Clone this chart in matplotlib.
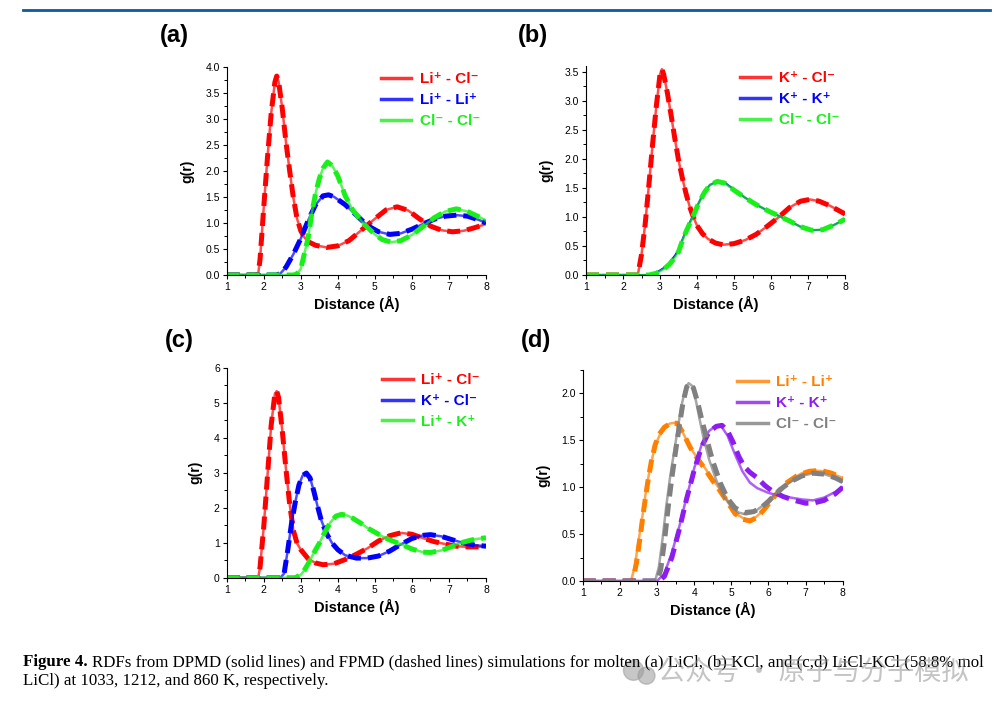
import matplotlib
matplotlib.use('Agg')
import matplotlib.pyplot as plt
from matplotlib.patches import Ellipse
from matplotlib.ticker import MultipleLocator, FormatStrFormatter

plt.rcParams['font.family'] = ['Liberation Sans', 'DejaVu Sans']

# ---- (a) LiCl, 1033 K ----
a_licl_x = [1.0, 1.8, 1.85, 1.9, 2.0, 2.1, 2.2, 2.3, 2.35, 2.4, 2.5, 2.6, 2.7, 2.8, 2.9, 3.0, 3.1, 3.2, 3.4,
            3.7, 4.0, 4.3, 4.6, 5.0, 5.3, 5.6, 5.9, 6.2, 6.5, 6.8, 7.1, 7.4, 7.7, 8.0]
a_licl_y = [0, 0, 0.02, 0.3, 1.3, 2.25, 3.1, 3.7, 3.82, 3.72, 3.2, 2.55, 2.0, 1.48, 1.08, 0.85, 0.72, 0.64, 0.57,
            0.53, 0.56, 0.66, 0.84, 1.08, 1.25, 1.31, 1.24, 1.08, 0.94, 0.86, 0.83, 0.85, 0.91, 0.98]
a_lili_x = [1.0, 2.35, 2.45, 2.6, 2.8, 3.0, 3.2, 3.4, 3.6, 3.75, 3.9, 4.2, 4.5, 4.8, 5.1, 5.4, 5.7, 6.0, 6.3,
            6.6, 6.9, 7.2, 7.5, 7.8, 8.0]
a_lili_y = [0, 0, 0.03, 0.15, 0.4, 0.7, 1.05, 1.35, 1.52, 1.54, 1.5, 1.35, 1.15, 0.95, 0.83, 0.78, 0.8, 0.88, 0.98,
            1.07, 1.13, 1.15, 1.13, 1.06, 1.0]
a_clcl_x = [1.0, 2.8, 2.9, 3.0, 3.1, 3.2, 3.3, 3.4, 3.5, 3.6, 3.72, 3.85, 4.0, 4.2, 4.4, 4.7, 5.0, 5.2, 5.45,
            5.7, 6.0, 6.3, 6.6, 6.9, 7.2, 7.5, 7.8, 8.0]
a_clcl_y = [0, 0, 0.02, 0.12, 0.42, 0.72, 1.2, 1.57, 1.85, 2.05, 2.17, 2.1, 1.9, 1.52, 1.25, 0.98, 0.78, 0.68, 0.63,
            0.66, 0.77, 0.93, 1.1, 1.22, 1.27, 1.22, 1.12, 1.05]

# ---- (b) KCl, 1212 K ----
b_kcl_x = [1.0, 2.4, 2.5, 2.6, 2.7, 2.8, 2.9, 3.0, 3.05, 3.1, 3.2, 3.3, 3.4, 3.5, 3.6, 3.7, 3.8, 3.9, 4.0, 4.15,
           4.3, 4.5, 4.7, 5.0, 5.3, 5.6, 5.9, 6.2, 6.5, 6.8, 7.05, 7.3, 7.6, 8.0]
b_kcl_y = [0, 0, 0.35, 0.88, 1.55, 2.25, 2.9, 3.45, 3.54, 3.45, 3.13, 2.75, 2.35, 1.98, 1.68, 1.41, 1.18, 1.0, 0.85,
           0.71, 0.62, 0.55, 0.52, 0.54, 0.6, 0.7, 0.84, 0.99, 1.16, 1.27, 1.3, 1.27, 1.19, 1.05]
b_kk_x = [1.0, 2.7, 2.9, 3.1, 3.25, 3.4, 3.5, 3.6, 3.7, 3.8, 3.9, 4.0, 4.1, 4.2, 4.35, 4.55, 4.75, 5.0, 5.3, 5.6,
          5.9, 6.2, 6.5, 6.8, 7.1, 7.4, 7.7, 8.0]
b_kk_y = [0, 0, 0.04, 0.12, 0.21, 0.33, 0.43, 0.6, 0.76, 0.9, 1.03, 1.18, 1.31, 1.43, 1.55, 1.61, 1.59, 1.47, 1.33,
          1.21, 1.11, 1.02, 0.93, 0.83, 0.77, 0.78, 0.86, 0.96]
b_clcl_x = [1.0, 2.7, 2.9, 3.1, 3.25, 3.4, 3.5, 3.6, 3.7, 3.8, 3.9, 4.0, 4.1, 4.2, 4.35, 4.55, 4.75, 5.0, 5.3, 5.6,
            5.9, 6.2, 6.5, 6.8, 7.1, 7.4, 7.7, 8.0]
b_clcl_y = [0, 0, 0.03, 0.1, 0.18, 0.3, 0.4, 0.58, 0.74, 0.88, 1.02, 1.17, 1.3, 1.42, 1.55, 1.61, 1.58, 1.46, 1.33,
            1.21, 1.11, 1.02, 0.93, 0.83, 0.77, 0.78, 0.86, 0.96]

# ---- (c) LiCl-KCl, 860 K ----
c_licl_x = [1.0, 1.85, 1.9, 2.0, 2.1, 2.2, 2.3, 2.35, 2.4, 2.5, 2.6, 2.7, 2.8, 2.9, 3.0, 3.2, 3.4, 3.6, 3.9, 4.2,
            4.5, 4.8, 5.1, 5.4, 5.7, 6.0, 6.3, 6.6, 6.9, 7.2, 7.5, 7.8, 8.0]
c_licl_y = [0, 0, 0.3, 1.45, 2.9, 4.35, 5.25, 5.33, 5.15, 4.2, 3.1, 2.1, 1.35, 0.98, 0.8, 0.54, 0.42, 0.37, 0.4, 0.52,
            0.67, 0.84, 1.05, 1.2, 1.28, 1.24, 1.13, 1.03, 0.96, 0.9, 0.88, 0.88, 0.9]
c_kcl_x = [1.0, 2.45, 2.55, 2.65, 2.75, 2.85, 2.95, 3.05, 3.15, 3.25, 3.35, 3.45, 3.55, 3.7, 3.85, 4.0, 4.2, 4.5,
           4.8, 5.1, 5.4, 5.7, 6.0, 6.3, 6.5, 6.8, 7.1, 7.4, 7.7, 8.0]
c_kcl_y = [0, 0, 0.12, 0.8, 1.55, 2.15, 2.65, 2.92, 2.99, 2.85, 2.48, 2.05, 1.65, 1.25, 0.98, 0.8, 0.64, 0.56,
           0.56, 0.62, 0.76, 0.95, 1.12, 1.21, 1.23, 1.18, 1.08, 0.99, 0.93, 0.9]
c_lik_x = [1.0, 2.85, 3.0, 3.1, 3.2, 3.3, 3.4, 3.5, 3.6, 3.7, 3.8, 3.95, 4.1, 4.25, 4.4, 4.6, 4.8, 5.0, 5.2, 5.4,
           5.7, 6.0, 6.3, 6.5, 6.8, 7.1, 7.4, 7.7, 8.0]
c_lik_y = [0, 0, 0.08, 0.22, 0.4, 0.6, 0.8, 0.98, 1.2, 1.4, 1.58, 1.76, 1.81, 1.78, 1.7, 1.57, 1.42, 1.3, 1.18, 1.08,
           0.96, 0.82, 0.73, 0.72, 0.78, 0.9, 1.02, 1.1, 1.14]

# ---- (d) LiCl-KCl like pairs, solid = DPMD, dashed = FPMD ----
d_lili_x = [1.0, 2.3, 2.4, 2.5, 2.6, 2.7, 2.8, 2.9, 3.0, 3.1, 3.2, 3.35, 3.5, 3.6, 3.8, 4.0, 4.2, 4.4, 4.6, 4.8,
            5.0, 5.2, 5.4, 5.6, 5.8, 6.0, 6.3, 6.6, 6.9, 7.2, 7.5, 7.8, 8.0]
d_lili_y = [0, 0, 0.15, 0.42, 0.67, 0.95, 1.18, 1.36, 1.49, 1.58, 1.64, 1.68, 1.69, 1.66, 1.5, 1.36, 1.26, 1.14,
            1.03, 0.92, 0.8, 0.7, 0.65, 0.66, 0.73, 0.83, 0.97, 1.08, 1.15, 1.18, 1.17, 1.13, 1.1]
d_lili_fp_x = [1.0, 2.35, 2.45, 2.55, 2.65, 2.75, 2.85, 2.95, 3.05, 3.2, 3.4, 3.55, 3.7, 3.9, 4.1, 4.3, 4.5, 4.7,
               4.9, 5.1, 5.3, 5.5, 5.7, 5.9, 6.2, 6.5, 6.8, 7.1, 7.4, 7.7, 8.0]
d_lili_fp_y = [0, 0, 0.2, 0.48, 0.78, 1.05, 1.28, 1.45, 1.56, 1.64, 1.69, 1.68, 1.58, 1.42, 1.3, 1.19, 1.07, 0.96,
               0.84, 0.72, 0.66, 0.64, 0.68, 0.77, 0.92, 1.05, 1.13, 1.17, 1.18, 1.15, 1.1]
d_kk_x = [1.0, 3.0, 3.2, 3.4, 3.6, 3.8, 4.0, 4.2, 4.4, 4.6, 4.75, 4.9, 5.1, 5.3, 5.5, 5.7, 6.0, 6.3, 6.6, 6.9,
          7.2, 7.5, 7.8, 8.0]
d_kk_y = [0, 0, 0.08, 0.3, 0.58, 0.9, 1.2, 1.45, 1.6, 1.66, 1.64, 1.55, 1.35, 1.17, 1.05, 0.99, 0.94, 0.91, 0.89,
          0.87, 0.86, 0.89, 0.95, 1.0]
d_kk_fp_x = [1.0, 3.05, 3.2, 3.4, 3.6, 3.8, 4.0, 4.2, 4.4, 4.6, 4.75, 4.9, 5.05, 5.2, 5.35, 5.5, 5.7, 5.9, 6.1,
             6.4, 6.7, 7.0, 7.2, 7.5, 7.8, 8.0]
d_kk_fp_y = [0, 0, 0.05, 0.25, 0.55, 0.88, 1.18, 1.43, 1.59, 1.65, 1.66, 1.6, 1.48, 1.33, 1.22, 1.16, 1.1, 1.02,
             0.96, 0.9, 0.86, 0.83, 0.83, 0.86, 0.93, 1.0]
d_clcl_x = [1.0, 2.95, 3.05, 3.15, 3.25, 3.35, 3.45, 3.55, 3.65, 3.75, 3.85, 3.95, 4.05, 4.15, 4.25, 4.4, 4.6,
            4.8, 5.0, 5.2, 5.4, 5.6, 5.8, 6.0, 6.3, 6.6, 6.9, 7.2, 7.5, 7.8, 8.0]
d_clcl_y = [0, 0, 0.15, 0.45, 0.8, 1.1, 1.35, 1.6, 1.85, 2.03, 2.11, 2.08, 1.92, 1.72, 1.53, 1.3, 1.07, 0.9, 0.79,
            0.73, 0.71, 0.73, 0.79, 0.86, 0.97, 1.06, 1.12, 1.15, 1.14, 1.1, 1.06]
d_clcl_fp_x = [1.0, 3.0, 3.1, 3.2, 3.3, 3.4, 3.5, 3.6, 3.7, 3.8, 3.88, 3.98, 4.1, 4.2, 4.35, 4.5, 4.7, 4.9, 5.1,
               5.35, 5.6, 5.8, 6.0, 6.3, 6.6, 6.9, 7.2, 7.5, 7.8, 8.0]
d_clcl_fp_y = [0, 0, 0.12, 0.42, 0.78, 1.1, 1.38, 1.65, 1.9, 2.07, 2.11, 2.06, 1.9, 1.73, 1.5, 1.28, 1.05, 0.88,
               0.78, 0.73, 0.74, 0.78, 0.85, 0.97, 1.06, 1.12, 1.15, 1.14, 1.1, 1.06]

RED, BLUE, GREEN = '#ff0000', '#0000ff', '#19f019'
ORANGE, PURPLE, GRAY = '#ff8000', '#8c1cf0', '#808080'
DASH = (0, (2.6, 1.4))


def draw_pair(ax, x, y, color, label, x2=None, y2=None, solid_lw=1.8):
    if x2 is None:
        x2, y2 = x, y
    ax.plot(x2, y2, color=color, lw=3.6, linestyle=DASH, dash_capstyle='butt')
    ax.plot(x, y, color=color, lw=solid_lw, alpha=0.7, label=label)


def style_axes(ax, ymax, ymajor, yminor, fmt):
    ax.set_xlim(1, 8)
    ax.set_ylim(0, ymax)
    ax.xaxis.set_major_locator(MultipleLocator(1))
    ax.xaxis.set_minor_locator(MultipleLocator(0.5))
    ax.yaxis.set_major_locator(MultipleLocator(ymajor))
    ax.yaxis.set_minor_locator(MultipleLocator(yminor))
    ax.yaxis.set_major_formatter(FormatStrFormatter(fmt))
    for side in ['top', 'right']:
        ax.spines[side].set_visible(False)
    for side in ['left', 'bottom']:
        ax.spines[side].set_linewidth(0.8)
    ax.tick_params(which='major', direction='out', length=3, width=0.8, labelsize=7.5, pad=2)
    ax.tick_params(which='minor', direction='out', length=2, width=0.7)
    ax.set_xlabel('Distance (Å)', fontsize=10.5, fontweight='bold', labelpad=3)
    ax.set_ylabel('g(r)', fontsize=10, fontweight='bold', labelpad=8)
    leg = ax.legend(loc='upper right', bbox_to_anchor=(1.03, 1.04), frameon=False,
                    handlelength=2.0, handletextpad=0.55, labelspacing=0.45,
                    prop={'weight': 'bold', 'size': 11})
    for line, text in zip(leg.get_lines(), leg.get_texts()):
        line.set_linewidth(2.5)
        line.set_alpha(0.8)
        text.set_color(line.get_color())


fig = plt.figure(figsize=(10, 7.09), dpi=100)

ax_a = fig.add_axes([0.2267, 0.6121, 0.2593, 0.2938])
draw_pair(ax_a, a_licl_x, a_licl_y, RED, 'Li⁺ - Cl⁻')
draw_pair(ax_a, a_lili_x, a_lili_y, BLUE, 'Li⁺ - Li⁺')
draw_pair(ax_a, a_clcl_x, a_clcl_y, GREEN, 'Cl⁻ - Cl⁻')
style_axes(ax_a, 4.0, 0.5, 0.25, '%.1f')

ax_b = fig.add_axes([0.586, 0.6121, 0.259, 0.2952])
draw_pair(ax_b, b_kcl_x, b_kcl_y, RED, 'K⁺ - Cl⁻')
ax_b.plot(b_kk_x, b_kk_y, color=BLUE, lw=1.4, label='K⁺ - K⁺')
draw_pair(ax_b, b_clcl_x, b_clcl_y, GREEN, 'Cl⁻ - Cl⁻')
style_axes(ax_b, 3.6, 0.5, 0.25, '%.1f')

ax_c = fig.add_axes([0.2267, 0.1852, 0.2593, 0.2962])
draw_pair(ax_c, c_licl_x, c_licl_y, RED, 'Li⁺ - Cl⁻')
draw_pair(ax_c, c_kcl_x, c_kcl_y, BLUE, 'K⁺ - Cl⁻')
draw_pair(ax_c, c_lik_x, c_lik_y, GREEN, 'Li⁺ - K⁺')
style_axes(ax_c, 6, 1, 0.5, '%d')

ax_d = fig.add_axes([0.5827, 0.1805, 0.26, 0.2976])
draw_pair(ax_d, d_lili_x, d_lili_y, ORANGE, 'Li⁺ - Li⁺', d_lili_fp_x, d_lili_fp_y)
draw_pair(ax_d, d_kk_x, d_kk_y, PURPLE, 'K⁺ - K⁺', d_kk_fp_x, d_kk_fp_y)
draw_pair(ax_d, d_clcl_x, d_clcl_y, GRAY, 'Cl⁻ - Cl⁻', d_clcl_fp_x, d_clcl_fp_y)
style_axes(ax_d, 2.25, 0.5, 0.25, '%.1f')

# panel letters
for lbl, x, y in [('(a)', 0.160, 0.950), ('(b)', 0.518, 0.950),
                  ('(c)', 0.165, 0.520), ('(d)', 0.521, 0.520)]:
    fig.text(x, y, lbl, fontsize=17, fontweight='bold', va='center')

# journal rule at the top
fig.add_artist(plt.Line2D([0.023, 0.990], [0.986, 0.986], color='#0a5aa5', lw=2))

# caption
cap_font = ['Liberation Serif', 'DejaVu Serif']
cap_size = 12.2
t1 = fig.text(0.023, 0.0663, 'Figure 4.', fontsize=cap_size, fontweight='bold', family=cap_font, va='center')
fig.canvas.draw()
bb = t1.get_window_extent(fig.canvas.get_renderer())
x_after = (bb.x1 + 4) / fig.bbox.width
fig.text(x_after, 0.0663,
         'RDFs from DPMD (solid lines) and FPMD (dashed lines) simulations for molten (a) LiCl, (b) KCl, '
         'and (c,d) LiCl–KCl (58.8% mol',
         fontsize=cap_size, family=cap_font, va='center')
fig.text(0.023, 0.0395, 'LiCl) at 1033, 1212, and 860 K, respectively.',
         fontsize=cap_size, family=cap_font, va='center')

# watermark
fig.add_artist(Ellipse((0.6335, 0.0545), 0.020, 0.028, transform=fig.transFigure,
                       color='#9a9a9a', alpha=0.55))
fig.add_artist(Ellipse((0.6465, 0.0470), 0.017, 0.024, transform=fig.transFigure,
                       color='#9a9a9a', alpha=0.55))
fig.text(0.658, 0.0505, '公众号 · 原子与分子模拟', fontsize=19.5, color='#8a8a8a', alpha=0.5,
         family=['Noto Sans CJK SC', 'DejaVu Sans'], va='center')

fig.savefig('out.png', dpi=100)
